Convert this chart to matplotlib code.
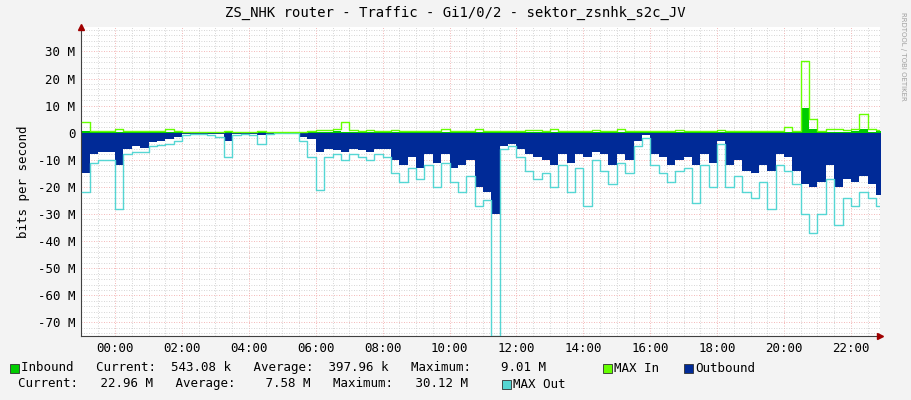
import matplotlib
matplotlib.use("Agg")
import matplotlib.pyplot as plt
import numpy as np
from matplotlib.patches import Rectangle

# time in hours (15 min steps), values in Mbit/s
t_start = -1.0
step_h = 0.25

outbound = [15, 8, 7, 7, 12, 6, 5, 5.5, 3.5, 3, 2.5, 1.5, 0.5, 0.3, 0.3, 0.3,
            0.5, 3, 0.5, 0.3, 0.5, 1, 0.3, 0.1, 0.1, 0.1, 1.5, 2.5, 7, 6, 6.5, 7,
            6, 6.5, 7, 6, 6, 10, 12, 9, 13, 8, 11, 8, 13, 12, 10, 20,
            22, 30, 5, 4, 6, 8, 9, 10, 12, 8, 11, 8, 9, 7, 8, 12,
            8, 10, 3, 1, 8, 9, 12, 10, 9, 12, 8, 11, 3, 12, 10, 14,
            15, 12, 14, 8, 9, 14, 19, 20, 18, 12, 20, 17, 18, 16, 19, 23]
max_out = [22, 11, 10, 10, 28, 8, 7, 7, 5, 4.5, 4, 3, 1, 0.5, 0.5, 0.8,
           1.5, 9, 1, 0.5, 1, 4, 0.5, 0.2, 0.2, 0.2, 3, 9, 21, 9, 8, 10,
           8, 9, 10, 8, 9, 15, 18, 13, 17, 12, 20, 11, 18, 22, 16, 27,
           25, 75, 6, 5, 9, 14, 17, 15, 20, 12, 22, 13, 27, 10, 14, 19,
           11, 15, 5, 2, 12, 15, 18, 14, 13, 26, 12, 20, 4, 20, 16, 22,
           24, 18, 28, 12, 14, 19, 30, 37, 30, 17, 34, 24, 27, 22, 24, 27]
inbound = [0.5, 0.3, 0.3, 0.3, 0.4, 0.3, 0.3, 0.3, 0.3, 0.3, 0.3, 0.3, 0.2, 0.2, 0.2, 0.2,
           0.2, 0.3, 0.2, 0.2, 0.2, 0.2, 0.1, 0.1, 0.1, 0.1, 0.2, 0.3, 0.4, 0.3, 0.5, 0.3,
           0.3, 0.3, 0.3, 0.3, 0.3, 0.4, 0.3, 0.3, 0.3, 0.3, 0.3, 0.3, 0.3, 0.4, 0.3, 0.3,
           0.3, 0.3, 0.3, 0.3, 0.3, 0.3, 0.3, 0.3, 0.3, 0.3, 0.3, 0.3, 0.3, 0.3, 0.3, 0.3,
           0.3, 0.3, 0.3, 0.3, 0.3, 0.3, 0.3, 0.3, 0.3, 0.3, 0.3, 0.3, 0.3, 0.3, 0.3, 0.3,
           0.3, 0.3, 0.3, 0.3, 0.3, 0.4, 9.0, 1.5, 0.3, 0.3, 0.4, 0.4, 0.5, 1.5, 0.4, 0.5]
max_in = [4, 0.6, 0.6, 0.6, 1.2, 0.6, 0.6, 0.6, 0.6, 0.6, 1.2, 0.6, 0.4, 0.4, 0.4, 0.4,
          0.4, 0.8, 0.4, 0.4, 0.4, 0.6, 0.2, 0.2, 0.2, 0.2, 0.4, 0.8, 1.0, 1.0, 1.5, 4,
          1.0, 0.6, 1.0, 0.6, 0.6, 1.0, 0.6, 0.6, 0.6, 0.6, 0.6, 1.5, 0.6, 0.6, 0.6, 1.5,
          0.6, 0.6, 0.6, 0.6, 0.6, 1.0, 1.0, 0.6, 1.5, 0.6, 0.6, 0.6, 0.6, 1.0, 0.6, 0.6,
          1.5, 0.6, 0.6, 0.6, 0.6, 0.6, 0.6, 1.0, 0.6, 0.6, 0.6, 0.6, 1.0, 0.6, 0.6, 0.6,
          0.6, 0.6, 0.6, 0.6, 2.0, 0.6, 26.5, 5.0, 0.6, 1.2, 1.2, 1.0, 1.2, 7.0, 1.2, 1.0]

tick_hours = list(range(0, 23, 2))
tick_labels = [f"{h:02d}:00" for h in tick_hours]
y_ticks = [30, 20, 10, 0, -10, -20, -30, -40, -50, -60, -70]

C_IN = "#00CC00"
C_MAXIN = "#66FF00"
C_OUT = "#002A97"
C_MAXOUT = "#55D6D3"
MONO = "DejaVu Sans Mono"

n = len(outbound)
t = t_start + step_h * np.arange(n + 1)
out_v = -np.array(outbound + [outbound[-1]])
maxout_v = -np.array(max_out + [max_out[-1]])
in_v = np.array(inbound + [inbound[-1]])
maxin_v = np.array(max_in + [max_in[-1]])

fig = plt.figure(figsize=(9.11, 4.0), dpi=100, facecolor="#F3F3F3")
ax = fig.add_axes([81 / 911, 64 / 400, 799 / 911, 309 / 400])
ax.set_facecolor("white")

x0, x1 = -1.02, 22.87
ax.set_xlim(x0, x1)
ax.set_ylim(-75, 39)

# grid
for h in np.arange(-0.5, 23, 0.5):
    if h % 2 != 0:
        ax.axvline(h, color="#C8C8C8", lw=0.6, ls=(0, (1, 2)), zorder=0)
for h in tick_hours:
    ax.axvline(h, color="#F0A0A0", lw=0.6, ls=(0, (1, 2)), zorder=0)
for v in range(-74, 39, 2):
    if v % 10 != 0:
        ax.axhline(v, color="#C8C8C8", lw=0.6, ls=(0, (1, 2)), zorder=0)
for v in y_ticks:
    ax.axhline(v, color="#F0A0A0", lw=0.6, ls=(0, (1, 2)), zorder=0)

ax.fill_between(t, out_v, 0, step="post", color=C_OUT, lw=0, zorder=2)
ax.step(t, maxout_v, where="post", color=C_MAXOUT, lw=1.0, zorder=3)
ax.fill_between(t, in_v, 0, step="post", color=C_IN, lw=0, zorder=2)
ax.step(t, maxin_v, where="post", color=C_MAXIN, lw=1.0, zorder=4)

ax.set_xticks(tick_hours)
ax.set_xticklabels(tick_labels, family=MONO, fontsize=9)
ax.set_yticks(y_ticks)
ax.set_yticklabels([f"{v} M" if v != 0 else "0" for v in y_ticks], family=MONO, fontsize=9)
ax.tick_params(length=0, pad=4)
for s in ["top", "right"]:
    ax.spines[s].set_visible(False)
for s in ["left", "bottom"]:
    ax.spines[s].set_color("#404040")
    ax.spines[s].set_linewidth(0.8)
ax.plot([x1], [-75], marker=">", color="#A00000", ms=4, clip_on=False, zorder=5)
ax.plot([x0], [39], marker="^", color="#A00000", ms=4, clip_on=False, zorder=5)

ax.set_ylabel("bits per second", family=MONO, fontsize=9, labelpad=6)

fig.text(0.5, 1 - 13 / 400, "ZS_NHK router - Traffic - Gi1/0/2 - sektor_zsnhk_s2c_JV",
         ha="center", va="center", family=MONO, fontsize=10)
fig.text(903 / 911, 0.86, "RRDTOOL / TOBI OETIKER", rotation=270, ha="center", va="center",
         family="DejaVu Sans", fontsize=5, color="#A0A0A0")


def swatch(x, y, color):
    fig.patches.append(Rectangle((x / 911, 1 - (y + 5) / 400), 9 / 911, 9 / 400,
                                 facecolor=color, edgecolor="#303030", lw=0.6,
                                 transform=fig.transFigure))


def label(x, y, s):
    fig.text(x / 911, 1 - y / 400, s, ha="left", va="center", family=MONO, fontsize=9)


swatch(10, 368, C_IN)
label(21, 368, "Inbound   Current:  543.08 k   Average:  397.96 k   Maximum:    9.01 M")
swatch(603, 368, C_MAXIN)
label(614, 368, "MAX In")
swatch(684, 368, C_OUT)
label(695, 368, "Outbound")
label(18, 384, "Current:   22.96 M   Average:    7.58 M   Maximum:   30.12 M")
swatch(502, 384, C_MAXOUT)
label(513, 384, "MAX Out")

fig.savefig("out.png", dpi=100, facecolor=fig.get_facecolor())
